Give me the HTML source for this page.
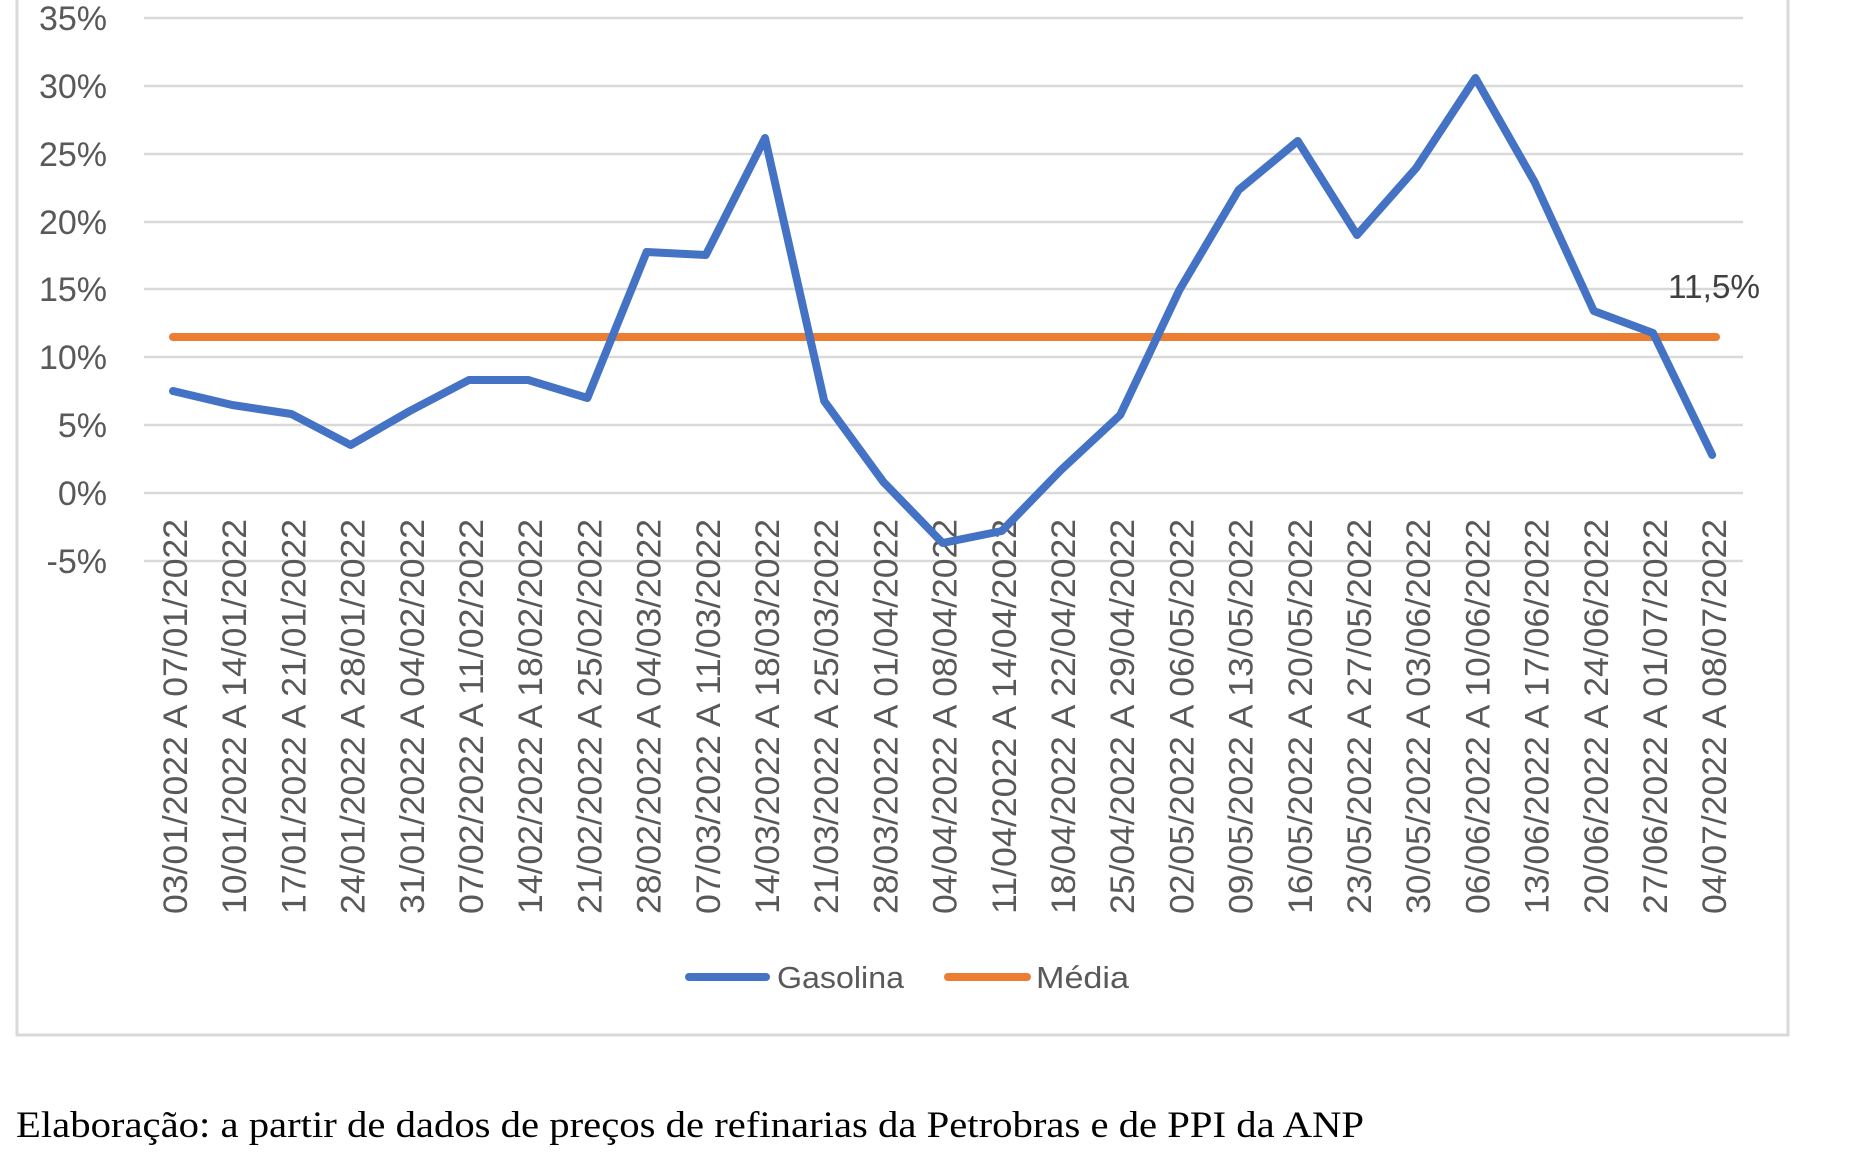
<!DOCTYPE html>
<html><head><meta charset="utf-8"><style>html,body{margin:0;padding:0;background:#fff}svg{display:block}</style></head>
<body>
<svg width="1854" height="1159" viewBox="0 0 1854 1159" xmlns="http://www.w3.org/2000/svg">
<rect x="17" y="-5" width="1771" height="1040" fill="#fff" stroke="#d9d9d9" stroke-width="3"/>
<g stroke="#d9d9d9" stroke-width="2.5">
<line x1="144" x2="1743" y1="18" y2="18"/>
<line x1="144" x2="1743" y1="86" y2="86"/>
<line x1="144" x2="1743" y1="154" y2="154"/>
<line x1="144" x2="1743" y1="222" y2="222"/>
<line x1="144" x2="1743" y1="289" y2="289"/>
<line x1="144" x2="1743" y1="357" y2="357"/>
<line x1="144" x2="1743" y1="425" y2="425"/>
<line x1="144" x2="1743" y1="493" y2="493"/>
<line x1="144" x2="1743" y1="561" y2="561"/>
</g>
<g font-family="Liberation Sans, sans-serif" font-size="34" fill="#595959" text-anchor="end">
<text x="107" y="30">35%</text>
<text x="107" y="98">30%</text>
<text x="107" y="166">25%</text>
<text x="107" y="234">20%</text>
<text x="107" y="301">15%</text>
<text x="107" y="369">10%</text>
<text x="107" y="437">5%</text>
<text x="107" y="505">0%</text>
<text x="107" y="573">-5%</text>
</g>
<line x1="173" y1="337" x2="1716" y2="337" stroke="#ED7D31" stroke-width="8" stroke-linecap="round"/>
<text x="1668" y="298" font-family="Liberation Sans, sans-serif" font-size="33" fill="#404040" textLength="92" lengthAdjust="spacingAndGlyphs">11,5%</text>
<line x1="689" y1="977" x2="766" y2="977" stroke="#4472C4" stroke-width="8" stroke-linecap="round"/>
<text x="777" y="988" font-family="Liberation Sans, sans-serif" font-size="31" fill="#595959" textLength="127" lengthAdjust="spacingAndGlyphs">Gasolina</text>
<line x1="948" y1="977" x2="1027" y2="977" stroke="#ED7D31" stroke-width="8" stroke-linecap="round"/>
<text x="1036" y="988" font-family="Liberation Sans, sans-serif" font-size="31" fill="#595959" textLength="93" lengthAdjust="spacingAndGlyphs">Média</text>
<text x="16" y="1137" font-family="Liberation Serif, serif" font-size="37" fill="#000" textLength="1348" lengthAdjust="spacingAndGlyphs">Elaboração: a partir de dados de preços de refinarias da Petrobras e de PPI da ANP</text>
<g font-family="Liberation Sans, sans-serif" font-size="34" fill="#595959">
<text transform="translate(187,914) rotate(-90)" textLength="395" lengthAdjust="spacingAndGlyphs">03/01/2022 A 07/01/2022</text>
<text transform="translate(246.2,914) rotate(-90)" textLength="395" lengthAdjust="spacingAndGlyphs">10/01/2022 A 14/01/2022</text>
<text transform="translate(305.4,914) rotate(-90)" textLength="395" lengthAdjust="spacingAndGlyphs">17/01/2022 A 21/01/2022</text>
<text transform="translate(364.6,914) rotate(-90)" textLength="395" lengthAdjust="spacingAndGlyphs">24/01/2022 A 28/01/2022</text>
<text transform="translate(423.8,914) rotate(-90)" textLength="395" lengthAdjust="spacingAndGlyphs">31/01/2022 A 04/02/2022</text>
<text transform="translate(483,914) rotate(-90)" textLength="395" lengthAdjust="spacingAndGlyphs">07/02/2022 A 11/02/2022</text>
<text transform="translate(542.2,914) rotate(-90)" textLength="395" lengthAdjust="spacingAndGlyphs">14/02/2022 A 18/02/2022</text>
<text transform="translate(601.4,914) rotate(-90)" textLength="395" lengthAdjust="spacingAndGlyphs">21/02/2022 A 25/02/2022</text>
<text transform="translate(660.6,914) rotate(-90)" textLength="395" lengthAdjust="spacingAndGlyphs">28/02/2022 A 04/03/2022</text>
<text transform="translate(719.8,914) rotate(-90)" textLength="395" lengthAdjust="spacingAndGlyphs">07/03/2022 A 11/03/2022</text>
<text transform="translate(779,914) rotate(-90)" textLength="395" lengthAdjust="spacingAndGlyphs">14/03/2022 A 18/03/2022</text>
<text transform="translate(838.2,914) rotate(-90)" textLength="395" lengthAdjust="spacingAndGlyphs">21/03/2022 A 25/03/2022</text>
<text transform="translate(897.4,914) rotate(-90)" textLength="395" lengthAdjust="spacingAndGlyphs">28/03/2022 A 01/04/2022</text>
<text transform="translate(956.6,914) rotate(-90)" textLength="395" lengthAdjust="spacingAndGlyphs">04/04/2022 A 08/04/2022</text>
<text transform="translate(1015.8,914) rotate(-90)" textLength="395" lengthAdjust="spacingAndGlyphs">11/04/2022 A 14/04/2022</text>
<text transform="translate(1075,914) rotate(-90)" textLength="395" lengthAdjust="spacingAndGlyphs">18/04/2022 A 22/04/2022</text>
<text transform="translate(1134.2,914) rotate(-90)" textLength="395" lengthAdjust="spacingAndGlyphs">25/04/2022 A 29/04/2022</text>
<text transform="translate(1193.4,914) rotate(-90)" textLength="395" lengthAdjust="spacingAndGlyphs">02/05/2022 A 06/05/2022</text>
<text transform="translate(1252.6,914) rotate(-90)" textLength="395" lengthAdjust="spacingAndGlyphs">09/05/2022 A 13/05/2022</text>
<text transform="translate(1311.8,914) rotate(-90)" textLength="395" lengthAdjust="spacingAndGlyphs">16/05/2022 A 20/05/2022</text>
<text transform="translate(1371,914) rotate(-90)" textLength="395" lengthAdjust="spacingAndGlyphs">23/05/2022 A 27/05/2022</text>
<text transform="translate(1430.2,914) rotate(-90)" textLength="395" lengthAdjust="spacingAndGlyphs">30/05/2022 A 03/06/2022</text>
<text transform="translate(1489.4,914) rotate(-90)" textLength="395" lengthAdjust="spacingAndGlyphs">06/06/2022 A 10/06/2022</text>
<text transform="translate(1548.6,914) rotate(-90)" textLength="395" lengthAdjust="spacingAndGlyphs">13/06/2022 A 17/06/2022</text>
<text transform="translate(1607.8,914) rotate(-90)" textLength="395" lengthAdjust="spacingAndGlyphs">20/06/2022 A 24/06/2022</text>
<text transform="translate(1667,914) rotate(-90)" textLength="395" lengthAdjust="spacingAndGlyphs">27/06/2022 A 01/07/2022</text>
<text transform="translate(1726.2,914) rotate(-90)" textLength="395" lengthAdjust="spacingAndGlyphs">04/07/2022 A 08/07/2022</text>
</g>
<polyline fill="none" stroke="#4472C4" stroke-width="8" stroke-linejoin="round" stroke-linecap="round" points="173,391 232.2,405 291.4,414 350.6,445 409.8,411 469,380 528.2,380 587.4,398 646.6,252 705.8,255 765,138 824.2,401 883.4,482 942.6,543 1001.8,531 1061,470 1120.2,415 1179.4,290 1238.6,190 1297.8,141 1357,235 1416.2,168 1475.4,78 1534.6,182 1593.8,311 1653,333 1712.2,455"/>
</svg>
</body></html>
